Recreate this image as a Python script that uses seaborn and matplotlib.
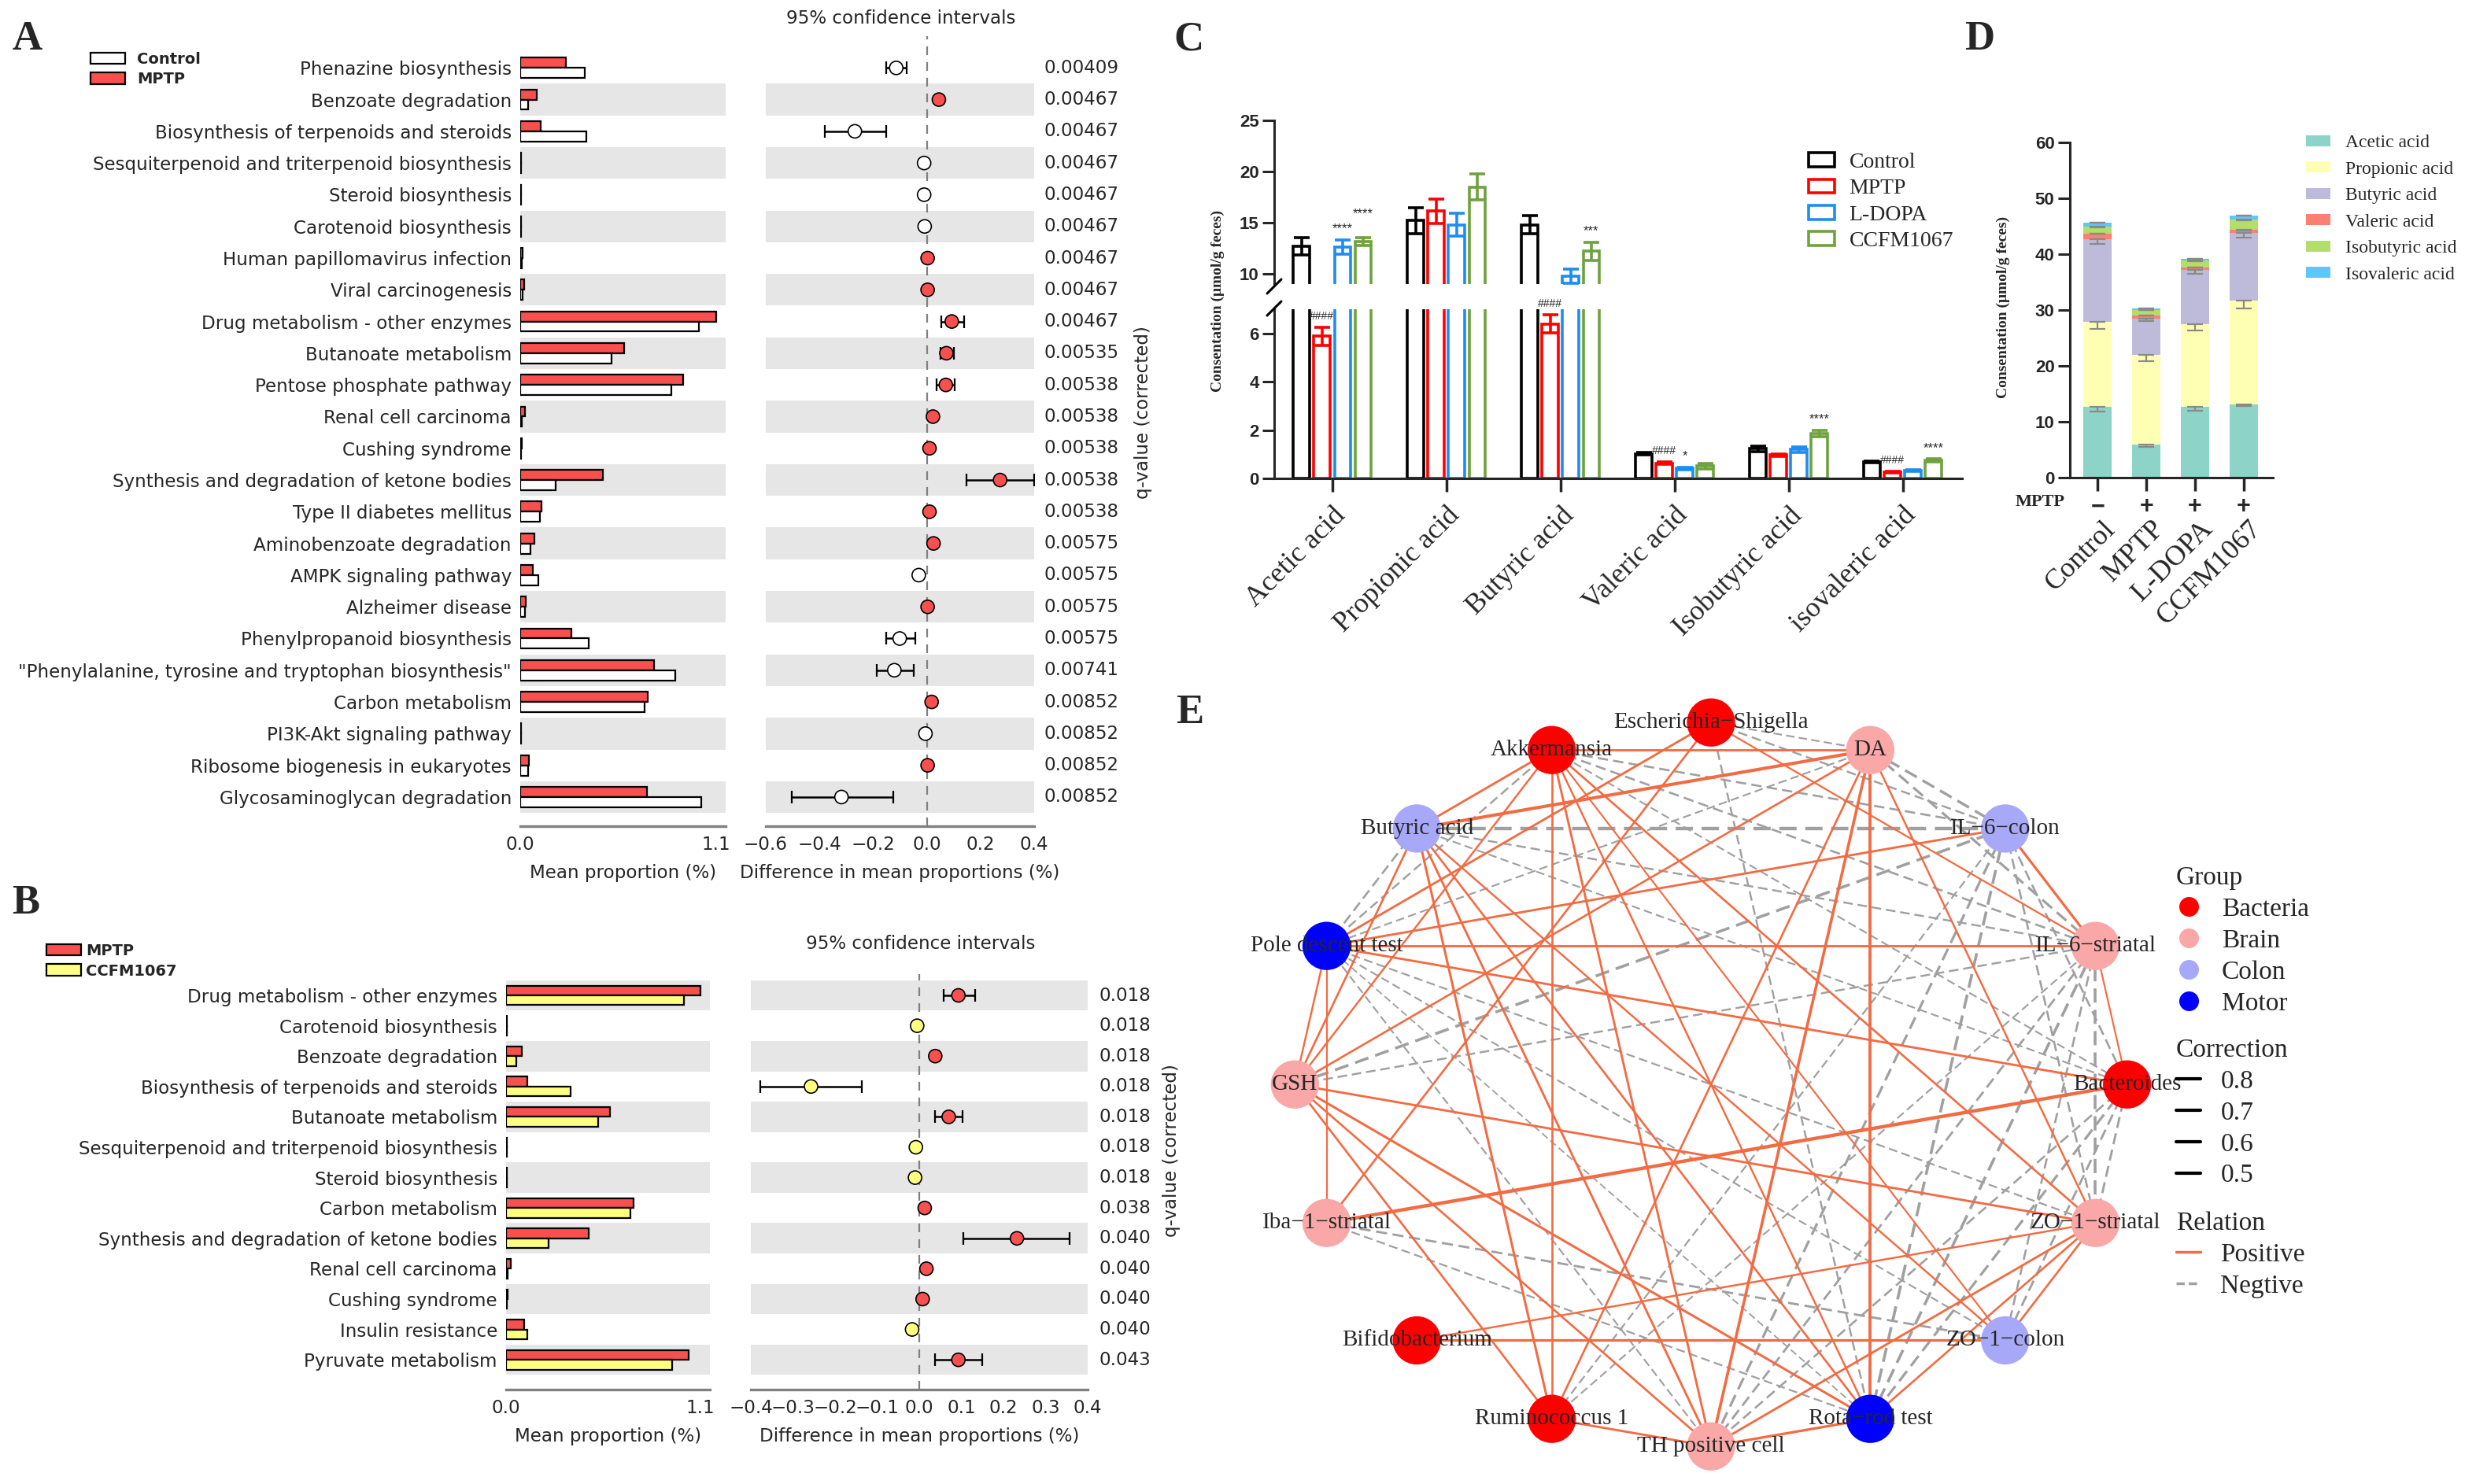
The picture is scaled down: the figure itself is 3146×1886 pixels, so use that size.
import numpy as np
import pandas as pd
import matplotlib
matplotlib.use("Agg")
import matplotlib.pyplot as plt
import matplotlib.transforms as mtransforms
import seaborn as sns
from matplotlib.lines import Line2D
from matplotlib.patches import Patch

sns.set_style("white")
plt.rcParams['font.family'] = ['DejaVu Sans']

SERIF = ['Liberation Serif', 'DejaVu Serif']
ARIAL = ['Liberation Sans', 'DejaVu Sans']

# ---------------- panel A : Control vs MPTP (STAMP) ----------------
a_paths = ["Phenazine biosynthesis", "Benzoate degradation", "Biosynthesis of terpenoids and steroids",
           "Sesquiterpenoid and triterpenoid biosynthesis", "Steroid biosynthesis", "Carotenoid biosynthesis",
           "Human papillomavirus infection", "Viral carcinogenesis", "Drug metabolism - other enzymes",
           "Butanoate metabolism", "Pentose phosphate pathway", "Renal cell carcinoma", "Cushing syndrome",
           "Synthesis and degradation of ketone bodies", "Type II diabetes mellitus", "Aminobenzoate degradation",
           "AMPK signaling pathway", "Alzheimer disease", "Phenylpropanoid biosynthesis",
           '"Phenylalanine, tyrosine and tryptophan biosynthesis"', "Carbon metabolism",
           "PI3K-Akt signaling pathway", "Ribosome biogenesis in eukaryotes", "Glycosaminoglycan degradation"]
a_mptp = [0.255, 0.091, 0.114, 0.005, 0.006, 0.004, 0.012, 0.020, 1.099, 0.582, 0.913, 0.027, 0.008,
          0.464, 0.118, 0.080, 0.072, 0.030, 0.285, 0.753, 0.715, 0.005, 0.050, 0.711]
a_ctrl = [0.361, 0.046, 0.373, 0.005, 0.006, 0.004, 0.010, 0.015, 1.004, 0.513, 0.848, 0.010, 0.006,
          0.198, 0.110, 0.057, 0.103, 0.027, 0.384, 0.871, 0.696, 0.005, 0.046, 1.015]
a_diff = [-0.114, 0.045, -0.268, -0.010, -0.010, -0.008, 0.003, 0.003, 0.093, 0.073, 0.071, 0.023, 0.010,
          0.273, 0.010, 0.025, -0.030, 0.003, -0.101, -0.121, 0.018, -0.005, 0.003, -0.318]
a_lo = [-0.150, 0.036, -0.381, -0.013, -0.013, -0.011, 0.001, 0.001, 0.053, 0.050, 0.035, 0.016, 0.006,
        0.149, 0.004, 0.015, -0.040, 0.000, -0.152, -0.187, 0.008, -0.007, 0.001, -0.504]
a_hi = [-0.076, 0.054, -0.152, -0.007, -0.007, -0.005, 0.005, 0.005, 0.139, 0.100, 0.104, 0.030, 0.014,
        0.400, 0.016, 0.035, -0.020, 0.006, -0.043, -0.048, 0.028, -0.003, 0.005, -0.126]
a_q = ["0.00409", "0.00467", "0.00467", "0.00467", "0.00467", "0.00467", "0.00467", "0.00467", "0.00467",
       "0.00535", "0.00538", "0.00538", "0.00538", "0.00538", "0.00538", "0.00575", "0.00575", "0.00575",
       "0.00575", "0.00741", "0.00852", "0.00852", "0.00852", "0.00852"]

# ---------------- panel B : MPTP vs CCFM1067 ----------------
b_paths = ["Drug metabolism - other enzymes", "Carotenoid biosynthesis", "Benzoate degradation",
           "Biosynthesis of terpenoids and steroids", "Butanoate metabolism",
           "Sesquiterpenoid and triterpenoid biosynthesis", "Steroid biosynthesis", "Carbon metabolism",
           "Synthesis and degradation of ketone bodies", "Renal cell carcinoma", "Cushing syndrome",
           "Insulin resistance", "Pyruvate metabolism"]
b_mptp = [1.100, 0.004, 0.091, 0.119, 0.588, 0.005, 0.006, 0.719, 0.469, 0.028, 0.008, 0.103, 1.033]
b_ccfm = [1.005, 0.004, 0.056, 0.365, 0.520, 0.005, 0.006, 0.703, 0.242, 0.010, 0.005, 0.119, 0.941]
b_diff = [0.093, -0.005, 0.038, -0.257, 0.070, -0.008, -0.010, 0.013, 0.232, 0.017, 0.008, -0.017, 0.093]
b_lo = [0.058, -0.007, 0.030, -0.377, 0.038, -0.010, -0.012, 0.008, 0.105, 0.012, 0.004, -0.021, 0.038]
b_hi = [0.132, -0.003, 0.046, -0.137, 0.102, -0.006, -0.008, 0.018, 0.357, 0.022, 0.012, -0.013, 0.150]
b_q = ["0.018", "0.018", "0.018", "0.018", "0.018", "0.018", "0.018", "0.038", "0.040", "0.040",
       "0.040", "0.040", "0.043"]

# ---------------- panels C / D : SCFA ----------------
c_acids = ["Acetic acid", "Propionic acid", "Butyric acid", "Valeric acid", "Isobutyric acid", "isovaleric acid"]
d_acids = ["Acetic acid", "Propionic acid", "Butyric acid", "Valeric acid", "Isobutyric acid", "Isovaleric acid"]
c_groups = ["Control", "MPTP", "L-DOPA", "CCFM1067"]
c_mean = {"Control": [12.70, 15.20, 14.80, 1.02, 1.23, 0.68],
          "MPTP": [5.88, 16.13, 6.39, 0.63, 0.97, 0.27],
          "L-DOPA": [12.62, 14.80, 9.80, 0.41, 1.19, 0.32],
          "CCFM1067": [13.15, 18.50, 12.20, 0.51, 1.86, 0.75]}
c_sem = {"Control": [0.85, 1.30, 0.90, 0.05, 0.12, 0.04],
         "MPTP": [0.38, 1.20, 0.38, 0.05, 0.05, 0.03],
         "L-DOPA": [0.70, 1.10, 0.70, 0.05, 0.12, 0.03],
         "CCFM1067": [0.40, 1.30, 0.90, 0.12, 0.14, 0.05]}
c_marks = {"Control": ["", "", "", "", "", ""],
           "MPTP": ["####", "", "####", "####", "", "####"],
           "L-DOPA": ["****", "", "", "*", "", ""],
           "CCFM1067": ["****", "", "***", "", "****", "****"]}
d_signs = ["\u2212", "+", "+", "+"]

# ---------------- panel E : correlation network ----------------
e_nodes = ["Escherichia-Shigella", "DA", "IL-6-colon", "IL-6-striatal", "Bacteroides", "ZO-1-striatal",
           "ZO-1-colon", "Rota-rod test", "TH positive cell", "Ruminococcus 1", "Bifidobacterium",
           "Iba-1-striatal", "GSH", "Pole descent test", "Butyric acid", "Akkermansia"]
e_groups = ["Bacteria", "Brain", "Colon", "Brain", "Bacteria", "Brain", "Colon", "Motor", "Brain",
            "Bacteria", "Bacteria", "Brain", "Brain", "Motor", "Colon", "Bacteria"]
pos_edges = [("Akkermansia", "DA", 0.62), ("Akkermansia", "Ruminococcus 1", 0.60),
             ("DA", "Rota-rod test", 0.72), ("Pole descent test", "IL-6-striatal", 0.62),
             ("Pole descent test", "Iba-1-striatal", 0.55), ("Bifidobacterium", "ZO-1-colon", 0.66),
             ("IL-6-colon", "IL-6-striatal", 0.66), ("IL-6-striatal", "Bacteroides", 0.55),
             ("Ruminococcus 1", "TH positive cell", 0.62), ("TH positive cell", "Rota-rod test", 0.66),
             ("Butyric acid", "Akkermansia", 0.62), ("Butyric acid", "DA", 0.75),
             ("Escherichia-Shigella", "Pole descent test", 0.62), ("Escherichia-Shigella", "Iba-1-striatal", 0.60),
             ("Escherichia-Shigella", "IL-6-striatal", 0.56), ("DA", "GSH", 0.60),
             ("DA", "TH positive cell", 0.70), ("DA", "ZO-1-striatal", 0.58), ("DA", "Ruminococcus 1", 0.60),
             ("IL-6-colon", "Pole descent test", 0.62), ("Bacteroides", "Iba-1-striatal", 0.78),
             ("Bacteroides", "Pole descent test", 0.62), ("GSH", "ZO-1-striatal", 0.62),
             ("GSH", "Ruminococcus 1", 0.60), ("GSH", "TH positive cell", 0.60), ("GSH", "Rota-rod test", 0.64),
             ("GSH", "Pole descent test", 0.58), ("GSH", "Akkermansia", 0.58), ("Butyric acid", "GSH", 0.60),
             ("Butyric acid", "Ruminococcus 1", 0.64), ("Butyric acid", "TH positive cell", 0.62),
             ("Butyric acid", "Rota-rod test", 0.60), ("Butyric acid", "ZO-1-colon", 0.58),
             ("Akkermansia", "TH positive cell", 0.62), ("Akkermansia", "Rota-rod test", 0.58),
             ("Akkermansia", "ZO-1-striatal", 0.60), ("Akkermansia", "ZO-1-colon", 0.55),
             ("ZO-1-striatal", "Bifidobacterium", 0.58), ("ZO-1-striatal", "TH positive cell", 0.62),
             ("ZO-1-striatal", "Rota-rod test", 0.60), ("ZO-1-striatal", "ZO-1-colon", 0.60)]
neg_edges = [("Butyric acid", "IL-6-colon", 0.78), ("Escherichia-Shigella", "DA", 0.55),
             ("Escherichia-Shigella", "IL-6-colon", 0.58), ("Escherichia-Shigella", "Rota-rod test", 0.58),
             ("DA", "IL-6-colon", 0.68), ("DA", "IL-6-striatal", 0.66), ("DA", "Pole descent test", 0.55),
             ("Akkermansia", "IL-6-colon", 0.60), ("Akkermansia", "IL-6-striatal", 0.60),
             ("Akkermansia", "Pole descent test", 0.58), ("Akkermansia", "Bacteroides", 0.55),
             ("Butyric acid", "Pole descent test", 0.60), ("Butyric acid", "IL-6-striatal", 0.58),
             ("Butyric acid", "Bacteroides", 0.55), ("Pole descent test", "ZO-1-striatal", 0.56),
             ("Pole descent test", "ZO-1-colon", 0.55), ("Pole descent test", "TH positive cell", 0.55),
             ("Pole descent test", "Rota-rod test", 0.52), ("GSH", "IL-6-colon", 0.70),
             ("GSH", "IL-6-striatal", 0.58), ("Iba-1-striatal", "ZO-1-colon", 0.62),
             ("Iba-1-striatal", "Rota-rod test", 0.56), ("IL-6-colon", "Rota-rod test", 0.70),
             ("IL-6-colon", "TH positive cell", 0.66), ("IL-6-colon", "Ruminococcus 1", 0.56),
             ("IL-6-colon", "ZO-1-striatal", 0.60), ("IL-6-colon", "Bacteroides", 0.60),
             ("IL-6-striatal", "Rota-rod test", 0.70), ("IL-6-striatal", "TH positive cell", 0.62),
             ("IL-6-striatal", "Ruminococcus 1", 0.55), ("IL-6-striatal", "ZO-1-striatal", 0.70),
             ("IL-6-striatal", "ZO-1-colon", 0.60), ("Bacteroides", "ZO-1-striatal", 0.62),
             ("Bacteroides", "ZO-1-colon", 0.62), ("Bacteroides", "Rota-rod test", 0.66),
             ("Bacteroides", "TH positive cell", 0.60)]

RED = '#F84F4F'
YEL = '#FFFF80'
BAND = '#E6E6E6'
GREY = '#808080'
LAB = 16.6

W, H = 3146, 1886
fig = plt.figure(figsize=(W / 100, H / 100), dpi=100)


def add_ax(left, top, right, bottom):
    # box given in pixels of the reference picture
    return fig.add_axes([left / W, 1 - bottom / H, (right - left) / W, (bottom - top) / H])


def fx(x):
    return x / W


def fy(y):
    return 1 - y / H


def minus(v):
    return f"{v:.1f}".replace('-', '\u2212')


def stamp(ax_bar, ax_ci, paths, v1, v2, names, colors, diff, lo, hi, qvals, ylim, ci_ticks, parity, q_x):
    df = pd.DataFrame({'pathway': paths * 2,
                       'group': [names[0]] * len(paths) + [names[1]] * len(paths),
                       'value': list(v1) + list(v2)})
    sns.barplot(data=df, x='value', y='pathway', hue='group', order=paths, hue_order=names,
                palette=dict(zip(names, colors)), orient='h', width=0.64, saturation=1,
                edgecolor='black', linewidth=1.6, errorbar=None, legend=False, ax=ax_bar)
    ypos = ax_bar.get_yticks()
    for i in ypos:
        if int(i) % 2 == parity:
            for ax in (ax_bar, ax_ci):
                ax.axhspan(i - 0.5, i + 0.5, color=BAND, lw=0, zorder=0)
    ax_bar.set_xlim(0, 1.153)
    ax_bar.set_ylim(*ylim)
    ax_bar.set_xticks([0, 1.1])
    ax_bar.set_xticklabels(['0.0', '1.1'])
    ax_bar.set_ylabel('')
    ax_bar.set_xlabel('Mean proportion (%)', fontsize=LAB, labelpad=9)
    ax_bar.tick_params(axis='y', length=0, labelsize=LAB, pad=8)

    d = np.array(diff)
    ax_ci.axvline(0, color=GREY, ls=(0, (5, 4)), lw=1.6, zorder=1)
    ax_ci.errorbar(d, ypos, xerr=[d - np.array(lo), np.array(hi) - d], fmt='none', ecolor='black',
                   elinewidth=1.8, capsize=6, capthick=1.6, zorder=2)
    sns.scatterplot(x=d, y=ypos, hue=np.where(d > 0, names[0], names[1]),
                    palette=dict(zip(names, colors)), s=150, edgecolor='black', linewidth=1.2,
                    legend=False, zorder=3, ax=ax_ci)
    ax_ci.set_xlim(ci_ticks[0], ci_ticks[-1])
    ax_ci.set_ylim(*ylim)
    ax_ci.set_xticks(ci_ticks)
    ax_ci.set_xticklabels([minus(t) for t in ci_ticks])
    ax_ci.set_yticks([])
    ax_ci.set_xlabel('Difference in mean proportions (%)', fontsize=LAB, labelpad=9)
    for ax in (ax_bar, ax_ci):
        for s in ('left', 'top', 'right'):
            ax.spines[s].set_visible(False)
        ax.spines['bottom'].set_color(GREY)
        ax.spines['bottom'].set_linewidth(2.4)
        ax.tick_params(axis='x', direction='in', length=8, width=1.5, color=GREY, labelsize=LAB, pad=9)
        ax.set_facecolor('none')
    trans = mtransforms.blended_transform_factory(fig.transFigure, ax_ci.transData)
    for y, q in zip(ypos, qvals):
        ax_ci.text(fx(q_x), y, q, transform=trans, ha='left', va='center', fontsize=LAB)


# ---- A ----
ax_a_bar = add_ax(661, 46, 922, 1050)
ax_a_ci = add_ax(973, 46, 1314, 1050)
stamp(ax_a_bar, ax_a_ci, a_paths, a_mptp, a_ctrl, ['MPTP', 'Control'], [RED, 'white'],
      a_diff, a_lo, a_hi, a_q, (23.92, -1.0), [-0.6, -0.4, -0.2, 0.0, 0.2, 0.4], 1, 1326)
fig.text(fx(1145), fy(24), '95% confidence intervals', ha='center', va='center', fontsize=LAB)
fig.text(fx(1452), fy(524), 'q-value (corrected)', rotation=90, ha='center', va='center', fontsize=LAB)
fig.legend(handles=[Patch(facecolor='white', edgecolor='black', lw=1.6, label='Control'),
                    Patch(facecolor=RED, edgecolor='black', lw=1.6, label='MPTP')],
           loc='upper left', bbox_to_anchor=(fx(105), fy(56)), frameon=False, borderpad=0,
           prop={'size': 14, 'weight': 'bold'}, handlelength=2.3, handleheight=0.8,
           handletextpad=0.75, labelspacing=0.33)

# ---- B ----
ax_b_bar = add_ax(643, 1238, 902, 1766)
ax_b_ci = add_ax(954, 1238, 1382, 1766)
stamp(ax_b_bar, ax_b_ci, b_paths, b_mptp, b_ccfm, ['MPTP', 'CCFM1067'], [RED, YEL],
      b_diff, b_lo, b_hi, b_q, (12.98, -0.7), [-0.4, -0.3, -0.2, -0.1, 0.0, 0.1, 0.2, 0.3, 0.4], 0, 1397)
fig.text(fx(1170), fy(1200), '95% confidence intervals', ha='center', va='center', fontsize=LAB)
fig.text(fx(1489), fy(1462), 'q-value (corrected)', rotation=90, ha='center', va='center', fontsize=LAB)
fig.legend(handles=[Patch(facecolor=RED, edgecolor='black', lw=1.6, label='MPTP'),
                    Patch(facecolor=YEL, edgecolor='black', lw=1.6, label='CCFM1067')],
           loc='upper left', bbox_to_anchor=(fx(49), fy(1189)), frameon=False, borderpad=0,
           prop={'size': 14, 'weight': 'bold'}, handlelength=2.3, handleheight=0.8,
           handletextpad=0.3, labelspacing=0.35)

# ---- C : broken-axis grouped bars ----
c_pal = {"Control": "black", "MPTP": "#FF0000", "L-DOPA": "#1E8CF0", "CCFM1067": "#6FA23F"}
df_c = pd.DataFrame([(a, g, c_mean[g][i]) for g in c_groups for i, a in enumerate(c_acids)],
                    columns=['acid', 'group', 'value'])
ax_ct = add_ax(1619, 153, 2493, 361)
ax_cb = add_ax(1619, 393, 2493, 608)
for ax in (ax_ct, ax_cb):
    sns.barplot(data=df_c, x='acid', y='value', hue='group', order=c_acids, hue_order=c_groups,
                palette=c_pal, fill=False, width=0.72, gap=0.2, saturation=1, linewidth=2.6,
                errorbar=None, legend=False, ax=ax)
    bars = sorted(ax.patches, key=lambda p: p.get_x())
    upper = ax is ax_ct
    for k, bar in enumerate(bars):
        cat, gi = divmod(k, 4)
        g = c_groups[gi]
        m, e = c_mean[g][cat], c_sem[g][cat]
        xc = bar.get_x() + bar.get_width() / 2
        ax.errorbar(xc, m, yerr=e, fmt='none', ecolor=c_pal[g], elinewidth=2.6, capsize=7, capthick=2.6)
        mark = c_marks[g][cat]
        if mark and (m >= 9) == upper:
            # lift a long mark when the neighbouring bar already carries one in this panel
            prev = c_marks[c_groups[gi - 1]][cat] if gi > 0 else ''
            prev_same = prev and (c_mean[c_groups[gi - 1]][cat] >= 9) == upper
            lift = 22 if (prev_same and len(mark) > 2 and len(prev) > 2) else 10
            ax.annotate(mark, (xc, m + e), xytext=(0, lift), textcoords='offset points', ha='center',
                        va='center', fontsize=12 if '*' in mark else 10, family=ARIAL,
                        annotation_clip=False)
    ax.set_xlim(-0.51, 5.52)
    ax.set_ylabel('')
    ax.set_xlabel('')
    ax.spines['top'].set_visible(False)
    ax.spines['right'].set_visible(False)
    ax.spines['left'].set_linewidth(2.2)
    ax.tick_params(axis='y', direction='out', length=11, width=2.2, labelsize=16, pad=3, left=True)
ax_ct.set_ylim(9, 25)
ax_ct.set_yticks([10, 15, 20, 25])
ax_ct.spines['bottom'].set_visible(False)
ax_ct.set_xticks([])
ax_cb.set_ylim(0, 7)
ax_cb.set_yticks([0, 2, 4, 6])
for ax in (ax_ct, ax_cb):
    for t in ax.get_yticklabels():
        t.set_fontfamily(ARIAL)
        t.set_fontweight('bold')
ax_cb.spines['bottom'].set_linewidth(2.2)
ax_cb.tick_params(axis='x', direction='out', length=12, width=2.5, pad=10, bottom=True)
ax_cb.set_xticklabels(c_acids, rotation=45, ha='right', rotation_mode='anchor', fontsize=26, family=SERIF)
for yy in (364, 392):
    fig.add_artist(Line2D([fx(1610), fx(1628)], [fy(yy + 9), fy(yy - 9)], transform=fig.transFigure,
                          color='black', lw=2.2))
fig.text(fx(1547), fy(382), 'Consentation (\u03bcmol/g feces)', rotation=90, ha='center', va='center',
         fontsize=14, weight='bold', family=SERIF)
ax_ct.legend(handles=[Patch(facecolor='white', edgecolor=c_pal[g], lw=2.6, label=g) for g in c_groups],
             loc='upper left', bbox_to_anchor=(fx(2298), fy(194)), bbox_transform=fig.transFigure,
             frameon=False, borderpad=0, borderaxespad=0, prop={'family': SERIF, 'size': 20},
             handlelength=1.2, handleheight=0.6, handletextpad=0.65, labelspacing=0.3)

# ---- D : stacked bars ----
d_pal = dict(zip(d_acids, ['#8DD3C7', '#FFFFB3', '#BEBADA', '#FB8072', '#B3DE69', '#5CC8F8']))
ax_d = add_ax(2630, 181, 2888, 607)
mean_tab = pd.DataFrame(c_mean, index=d_acids).T.loc[c_groups]
sem_tab = pd.DataFrame(c_sem, index=d_acids).T.loc[c_groups]
cum_tab = mean_tab.cumsum(axis=1)
for acid in reversed(d_acids):
    sns.barplot(x=c_groups, y=cum_tab[acid].values, color=d_pal[acid], width=0.58, saturation=1,
                errorbar=None, linewidth=0, ax=ax_d)
xs = ax_d.get_xticks()
for acid in d_acids:
    ax_d.errorbar(xs, cum_tab[acid].values, yerr=[sem_tab[acid].values, np.zeros(4)], fmt='none',
                  ecolor='#8A8A8A', elinewidth=1.6, capsize=7, capthick=1.6, zorder=4)
ax_d.set_ylim(0, 60)
ax_d.set_xlim(-0.57, 3.6)
ax_d.set_yticks(range(0, 61, 10))
ax_d.set_xticks(xs)
ax_d.set_xticklabels(d_signs, fontsize=22, fontweight='bold', family=ARIAL)
ax_d.spines['top'].set_visible(False)
ax_d.spines['right'].set_visible(False)
ax_d.spines['left'].set_linewidth(2.2)
ax_d.spines['bottom'].set_linewidth(2.2)
ax_d.tick_params(axis='x', direction='out', length=12, width=2.5, pad=4, bottom=True)
ax_d.tick_params(axis='y', direction='out', length=11, width=2.2, labelsize=16, pad=3, left=True)
for t in ax_d.get_yticklabels():
    t.set_fontfamily(ARIAL)
    t.set_fontweight('bold')
tr_d = mtransforms.blended_transform_factory(ax_d.transData, fig.transFigure)
for x, g in zip(xs, c_groups):
    ax_d.text(x + 0.1, fy(656), g, transform=tr_d, rotation=45, ha='right', va='top',
              rotation_mode='anchor', fontsize=26, family=SERIF)
fig.text(fx(2592), fy(638), 'MPTP', ha='center', va='center', fontsize=16, weight='bold', family=SERIF)
fig.text(fx(2545), fy(390), 'Consentation (\u03bcmol/g feces)', rotation=90, ha='center', va='center',
         fontsize=14, weight='bold', family=SERIF)
ax_d.legend(handles=[Patch(facecolor=d_pal[a], edgecolor='none', label=a) for a in d_acids],
            loc='upper left', bbox_to_anchor=(fx(2930), fy(171)), bbox_transform=fig.transFigure,
            frameon=False, borderpad=0, borderaxespad=0, prop={'family': SERIF, 'size': 17},
            handlelength=1.3, handleheight=0.55, handletextpad=0.8, labelspacing=0.53)

# ---- E : network on a circle ----
e_pal = {"Bacteria": "#FF0000", "Brain": "#F9A7A7", "Colon": "#A8A8F8", "Motor": "#0000FF"}
POS_C = '#F26B43'
NEG_C = '#A0A0A0'
ax_e = add_ax(1566, 863, 2782, 1875)
ang = np.deg2rad(90 - 22.5 * np.arange(len(e_nodes)))
node_x, node_y = np.cos(ang), np.sin(ang)
where = {n: (x, y) for n, x, y in zip(e_nodes, node_x, node_y)}
for a, b, r in neg_edges:
    (x1, y1), (x2, y2) = where[a], where[b]
    ax_e.plot([x1, x2], [y1, y2], color=NEG_C, lw=1.2 + (r - 0.5) * 7, ls=(0, (5, 2.5)), zorder=1)
for a, b, r in pos_edges:
    (x1, y1), (x2, y2) = where[a], where[b]
    ax_e.plot([x1, x2], [y1, y2], color=POS_C, lw=1.2 + (r - 0.5) * 7, zorder=2)
sns.scatterplot(x=node_x, y=node_y, hue=e_groups, palette=e_pal, s=1950, linewidth=0, legend=False,
                zorder=3, ax=ax_e)
for n, x, y in zip(e_nodes, node_x, node_y):
    ax_e.text(x, y, n.replace('-', '\u2212'), ha='center', va='center', fontsize=21, family=SERIF, zorder=4)
ax_e.set_xlim(-1.15, 1.15)
ax_e.set_ylim(-1.08, 1.12)
ax_e.axis('off')

leg_font = {'family': SERIF, 'size': 24}
fig.legend(handles=[Line2D([], [], ls='', marker='o', markersize=17, markerfacecolor=c, markeredgecolor=c,
                           label=g) for g, c in e_pal.items()],
           title='Group', title_fontproperties=leg_font, prop=leg_font, alignment='left',
           loc='upper left', bbox_to_anchor=(fx(2748), fy(1084)), frameon=False, borderpad=0,
           handlelength=1.0, handletextpad=0.75, labelspacing=0.28)
fig.legend(handles=[Line2D([], [], color='black', lw=3, label=v) for v in ['0.8', '0.7', '0.6', '0.5']],
           title='Correction', title_fontproperties=leg_font, prop=leg_font, alignment='left',
           loc='upper left', bbox_to_anchor=(fx(2748), fy(1303)), frameon=False, borderpad=0,
           handlelength=0.95, handletextpad=0.75, labelspacing=0.28)
fig.legend(handles=[Line2D([], [], color=POS_C, lw=2.5, label='Positive'),
                    Line2D([], [], color=NEG_C, lw=2.5, ls=(0, (3, 1.5)), label='Negtive')],
           title='Relation', title_fontproperties=leg_font, prop=leg_font, alignment='left',
           loc='upper left', bbox_to_anchor=(fx(2748), fy(1523)), frameon=False, borderpad=0,
           handlelength=0.95, handletextpad=0.75, labelspacing=0.28)

# ---- panel letters ----
for letter, (x, y) in {'A': (35, 50), 'B': (33, 1148), 'C': (1510, 50), 'D': (2515, 50),
                       'E': (1512, 906)}.items():
    fig.text(fx(x), fy(y), letter, ha='center', va='center', fontsize=38, weight='bold', family=SERIF)

fig.savefig('out.png', dpi=100)
